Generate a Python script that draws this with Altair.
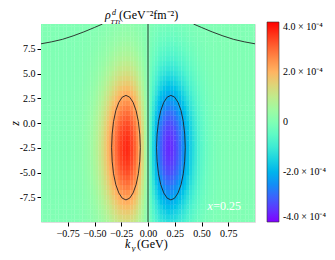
import altair as alt
import pandas as pd
import numpy as np

# ---- data ----
ky_grid = [round(-1 + 0.025 * i, 3) for i in range(81)]
ky_profile = [0.0000, 0.0001, 0.0001, 0.0002, 0.0003, 0.0005, 0.0008, 0.0014, 0.0022, 0.0035,
              0.0055, 0.0084, 0.0126, 0.0187, 0.0273, 0.039, 0.055, 0.076, 0.103, 0.138,
              0.181, 0.233, 0.295, 0.366, 0.446, 0.533, 0.624, 0.716, 0.803, 0.881,
              0.944, 0.985, 1.000, 0.984, 0.933, 0.848, 0.728, 0.576, 0.400, 0.204,
              0.000,
              -0.204, -0.400, -0.576, -0.728, -0.848, -0.933, -0.984, -1.000, -0.985, -0.944,
              -0.881, -0.803, -0.716, -0.624, -0.533, -0.446, -0.366, -0.295, -0.233, -0.181,
              -0.138, -0.103, -0.076, -0.055, -0.039, -0.0273, -0.0187, -0.0126, -0.0084, -0.0055,
              -0.0035, -0.0022, -0.0014, -0.0008, -0.0005, -0.0003, -0.0002, -0.0001, -0.0001, 0.0000]
z_grid = [round(-10 + 0.5 * j, 2) for j in range(41)]
z_profile = [0.360, 0.411, 0.464, 0.520, 0.578, 0.635, 0.692, 0.748, 0.801, 0.849,
             0.893, 0.930, 0.960, 0.982, 0.995, 1.000, 0.995, 0.982, 0.960, 0.930,
             0.893, 0.849, 0.801, 0.748, 0.692, 0.635, 0.578, 0.520, 0.464, 0.411,
             0.360, 0.313, 0.270, 0.230, 0.194, 0.163, 0.135, 0.111, 0.091, 0.073, 0.059]
peak = 3.6e-4

# contour lines (ellipses around the lobes, curves at top corners)
ell_left_ky = [-0.072, -0.077, -0.090, -0.111, -0.139, -0.171, -0.206, -0.241, -0.273, -0.301,
               -0.322, -0.335, -0.340, -0.335, -0.322, -0.301, -0.273, -0.241, -0.206, -0.171,
               -0.139, -0.111, -0.090, -0.077, -0.072]
ell_left_z = [-2.49, -1.12, 0.15, 1.24, 2.08, 2.61, 2.79, 2.61, 2.08, 1.24,
              0.15, -1.12, -2.49, -3.86, -5.13, -6.22, -7.06, -7.59, -7.77, -7.59,
              -7.06, -6.22, -5.13, -3.86, -2.49]
ell_right_ky = [0.348, 0.343, 0.330, 0.309, 0.281, 0.249, 0.214, 0.179, 0.147, 0.119,
                0.098, 0.085, 0.080, 0.085, 0.098, 0.119, 0.147, 0.179, 0.214, 0.249,
                0.281, 0.309, 0.330, 0.343, 0.348]
ell_right_z = ell_left_z
corner_left_ky = [-1.0, -0.9, -0.8, -0.7, -0.6, -0.5, -0.425]
corner_left_z = [8.0, 8.2, 8.45, 8.8, 9.2, 9.65, 10.0]
corner_right_ky = [0.425, 0.5, 0.6, 0.7, 0.8, 0.9, 1.0]
corner_right_z = [10.0, 9.65, 9.2, 8.8, 8.45, 8.2, 8.0]

x_ticks = [-0.75, -0.5, -0.25, 0, 0.25, 0.5, 0.75]
y_ticks = [-7.5, -5, -2.5, 0, 2.5, 5, 7.5]
cbar_ticks = [-4e-4, -2e-4, 0, 2e-4, 4e-4]

# ---- colormap (matplotlib 'rainbow') ----
stops = np.linspace(0, 1, 21)
def rainbow_hex(t):
    r = min(max(abs(2 * t - 0.5), 0), 1)
    g = np.sin(np.pi * t)
    b = np.cos(np.pi * t / 2)
    return "#%02x%02x%02x" % (int(round(r * 255)), int(round(g * 255)), int(round(max(b, 0) * 255)))
cmap_range = [rainbow_hex(t) for t in stops]
cmap_domain = [float(-4e-4 + 8e-4 * t) for t in stops]

rows = []
for i, k in enumerate(ky_grid):
    for j, z in enumerate(z_grid):
        rows.append({"ky": k, "z": z, "v": peak * ky_profile[i] * z_profile[j]})
field = pd.DataFrame(rows)

FONT = "Liberation Serif"
W, H = 214, 198
xs = alt.Scale(domain=[-1, 1], nice=False, zero=False)
ys = alt.Scale(domain=[-10, 10], nice=False, zero=False)

x_axis = alt.Axis(values=x_ticks, format=".2f", title=None, grid=False, domain=False,
                  tickSize=4, tickColor="black", labelColor="black", labelOverlap=False,
                  labelFont=FONT, labelFontSize=10, labelPadding=2)
y_axis = alt.Axis(values=y_ticks,
                  labelExpr="replace(format(datum.value, '.1f'), '\u2212', '-')",
                  title="z", titleFont=FONT, titleFontSize=12, titleFontStyle="italic",
                  titleFontWeight="normal", titleColor="black", titleX=-27, titleY=H / 2,
                  titleAngle=270, titleAlign="center", titleBaseline="middle",
                  grid=False, domain=False, tickSize=4, tickColor="black", labelColor="black",
                  labelOverlap=False, labelFont=FONT, labelFontSize=10, labelPadding=2)

heat = alt.Chart(field).transform_calculate(
    x1="datum.ky - 0.0135", x2="datum.ky + 0.0135",
    y1="datum.z - 0.27", y2="datum.z + 0.27"
).mark_rect(clip=True).encode(
    x=alt.X("x1:Q", scale=xs, axis=x_axis),
    x2="x2:Q",
    y=alt.Y("y1:Q", scale=ys, axis=y_axis),
    y2="y2:Q",
    color=alt.Color("v:Q", scale=alt.Scale(domain=cmap_domain, range=cmap_range, clamp=True),
                    legend=alt.Legend(
                        orient="none", legendX=226, legendY=-2, direction="vertical",
                        gradientLength=200, gradientThickness=12, title=None,
                        values=cbar_ticks, gradientStrokeColor="#333", gradientStrokeWidth=0.6,
                        labelFont=FONT, labelFontSize=10, labelColor="black", labelOffset=4,
                        labelOverlap=False,
                        labelExpr="datum.value == 0 ? '0' : (datum.value < 0 ? '-' : '') + format(abs(datum.value) * 1e4, '.1f') + ' \u00d7 10\u207b\u2074'")),
)

def line_layer(kys, zs):
    df = pd.DataFrame({"ky": kys, "z": zs, "o": list(range(len(kys)))})
    return alt.Chart(df).mark_line(color="#222", strokeWidth=0.9, clip=True).encode(
        x=alt.X("ky:Q", scale=xs, axis=x_axis), y=alt.Y("z:Q", scale=ys, axis=y_axis), order="o:Q")

zero_line = alt.Chart(pd.DataFrame({"ky": [0.0]})).mark_rule(color="#222", strokeWidth=0.9).encode(
    x=alt.X("ky:Q", scale=xs, axis=x_axis))

def txt(s, x, y, size, style="normal", color="black", align="left"):
    return alt.Chart(pd.DataFrame({"t": [s]})).mark_text(
        font=FONT, fontSize=size, fontStyle=style, color=color, align=align,
        baseline="alphabetic").encode(x=alt.value(x), y=alt.value(y), text="t:N")

def dtxt(s, kx, kz, size, style="normal", color="white"):
    return alt.Chart(pd.DataFrame({"t": [s], "ky": [kx], "z": [kz]})).mark_text(
        font=FONT, fontSize=size, fontStyle=style, color=color, align="left",
        baseline="middle").encode(x=alt.X("ky:Q", scale=xs, axis=x_axis),
                                  y=alt.Y("z:Q", scale=ys, axis=y_axis), text="t:N")

chart = alt.layer(
    heat,
    zero_line,
    line_layer(ell_left_ky, ell_left_z),
    line_layer(ell_right_ky, ell_right_z),
    line_layer(corner_left_ky, corner_left_z),
    line_layer(corner_right_ky, corner_right_z),
    dtxt("x", 0.555, -8.4, 12, "italic"),
    dtxt("=0.25", 0.61, -8.4, 12),
    txt("\u03c1", 64, -5, 12, "italic"),
    txt("d", 71, -9, 8, "italic"),
    txt("TTt", 69.5, -0.5, 7, "italic"),
    txt("(GeV\u207b\u00b2fm\u207b\u00b2)", 78, -5.5, 12),
    txt("k", 84, 224, 12, "italic"),
    txt("y", 90.5, 226.5, 9, "italic"),
    txt("(GeV)", 96, 224, 12),
).properties(
    width=W, height=H,
    autosize=alt.AutoSizeParams(type="none"),
    padding={"left": 33, "top": 16, "right": 72, "bottom": 30},
).configure_view(stroke="#333", strokeWidth=1).configure_axis(
    labelOverlap=False
).configure(background="white")

chart.save("out.html", embed_options={"renderer": "svg", "actions": False})
